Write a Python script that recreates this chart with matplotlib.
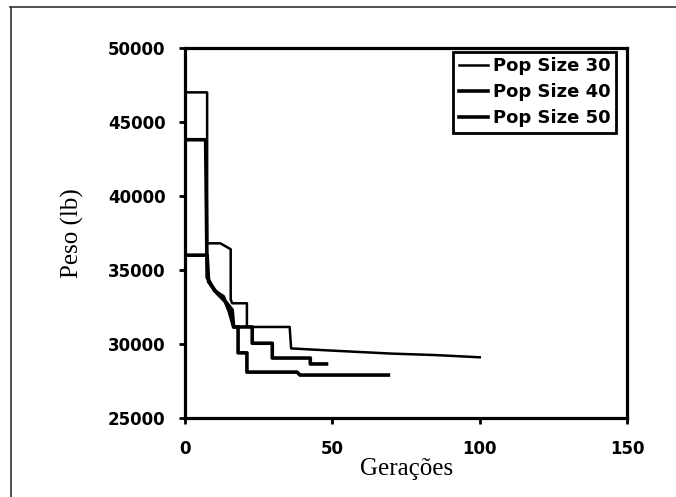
import matplotlib
matplotlib.use("Agg")
import matplotlib.pyplot as plt
from matplotlib.lines import Line2D

# best weight per generation for each population size
gen_30 = [0, 7.5, 7.5, 8.5, 12, 15.5, 15.5, 16, 21, 21, 35.5, 36, 50, 70, 85, 100]
peso_30 = [47000, 47000, 36800, 36800, 36800, 36400, 33000, 32750, 32750, 31150,
           31150, 29700, 29550, 29350, 29250, 29100]

gen_40 = [0, 7, 7.5, 10, 13, 15, 16.5, 22.8, 22.8, 29.6, 29.6, 42.5, 42.5, 48]
peso_40 = [43800, 43800, 34500, 33600, 33200, 32200, 31150, 31150, 30050, 30050,
           29050, 29050, 28650, 28650]

gen_50 = [0, 7.5, 8, 11, 14, 16, 16.5, 18, 18, 21, 21, 38, 39, 69]
peso_50 = [36000, 36000, 34200, 33400, 32800, 32300, 31150, 31150, 29400, 29400,
           28100, 28100, 27900, 27900]

labels = ["Pop Size 30", "Pop Size 40", "Pop Size 50"]
xticks = [0, 50, 100, 150]
yticks = [25000, 30000, 35000, 40000, 45000, 50000]

fig = plt.figure(figsize=(6.76, 4.97), dpi=100)
ax = fig.add_axes([0.2737, 0.159, 0.654, 0.7445])

ax.plot(gen_30, peso_30, color="black", lw=1.8, label=labels[0])
ax.plot(gen_40, peso_40, color="black", lw=2.6, label=labels[1])
ax.plot(gen_50, peso_50, color="black", lw=2.6, label=labels[2])

ax.set_xlim(0, 150)
ax.set_ylim(25000, 50000)
ax.set_xticks(xticks)
ax.set_yticks(yticks)
ax.set_xticklabels([str(t) for t in xticks], fontsize=12, fontweight="bold")
ax.set_yticklabels([str(t) for t in yticks], fontsize=12, fontweight="bold")
ax.tick_params(direction="out", length=4, width=2)
ax.tick_params(axis="y", pad=10)
ax.tick_params(axis="x", pad=12)

for sp in ax.spines.values():
    sp.set_linewidth(2.3)

ax.set_xlabel("Gerações", family="Liberation Serif", fontsize=18, labelpad=0)
ax.set_ylabel("Peso (lb)", family="Liberation Serif", fontsize=18, labelpad=17)

leg = ax.legend(loc="upper right", bbox_to_anchor=(0.975, 0.99), fancybox=False,
                edgecolor="black", framealpha=1, handlelength=1.6, handletextpad=0.3,
                borderpad=0.3, labelspacing=0.45, borderaxespad=0,
                prop={"weight": "bold", "size": 13})
leg.get_frame().set_linewidth(2)
for h in leg.get_lines():
    h.set_linewidth(2.6)
leg.get_lines()[0].set_linewidth(1.8)

# outer frame around the figure
fig.add_artist(Line2D([10 / 676, 1], [1 - 7 / 497, 1 - 7 / 497], color="#333333", lw=1.2))
fig.add_artist(Line2D([11 / 676, 11 / 676], [0, 1 - 7 / 497], color="#333333", lw=1.2))

fig.savefig("out.png", dpi=100)
